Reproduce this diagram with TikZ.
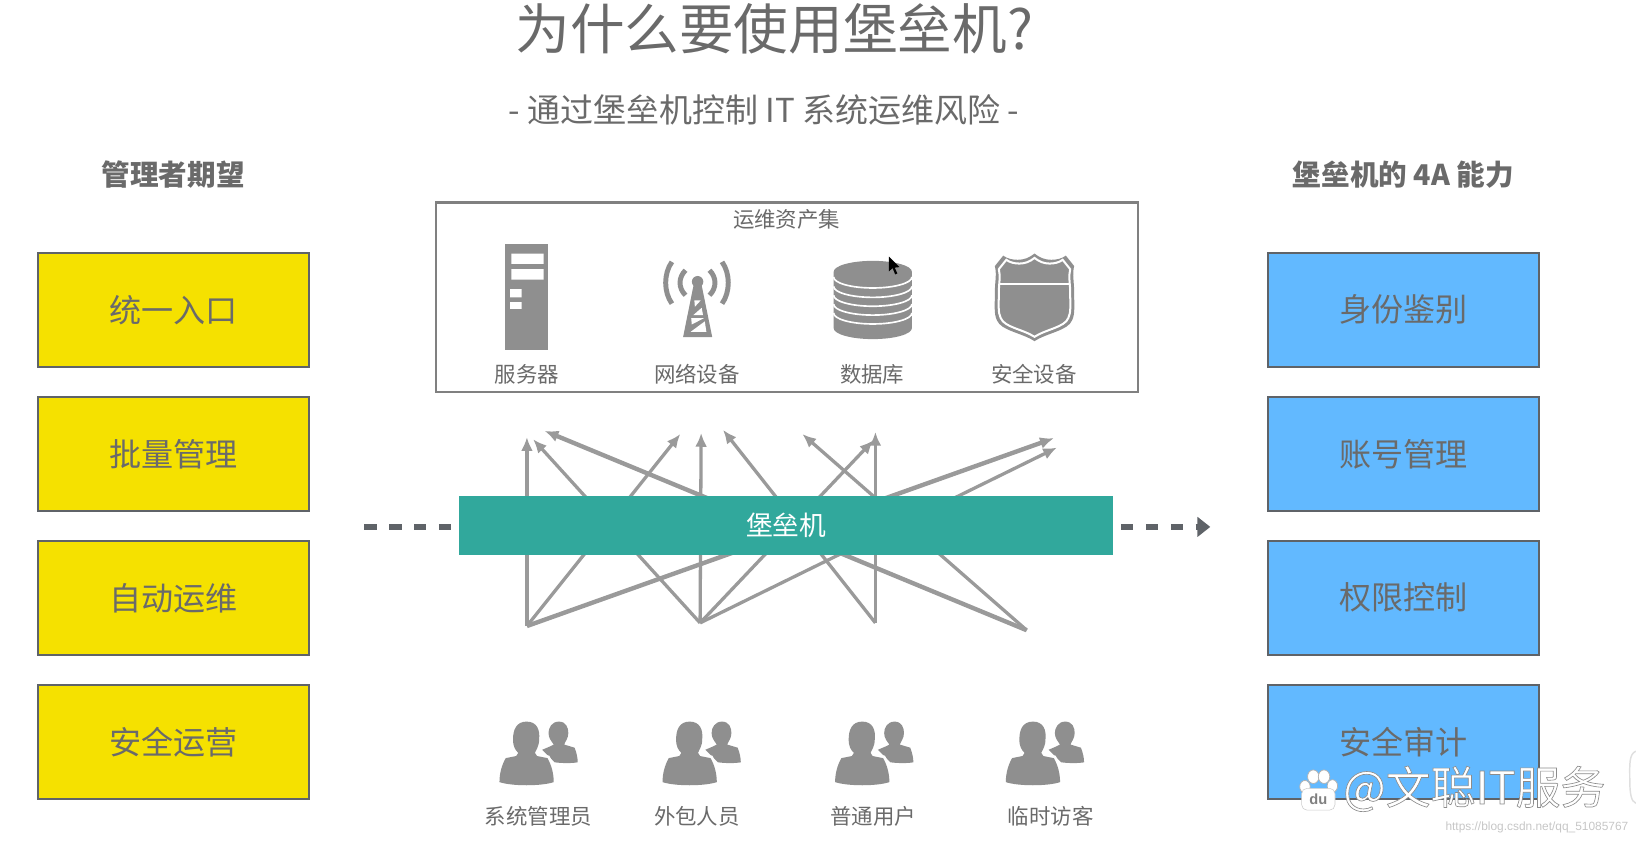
\documentclass[tikz,border=0pt]{standalone}
\usepackage{fontspec}
\setmainfont{Noto Sans CJK SC}
\newfontfamily\urlfont{Liberation Sans}
\usetikzlibrary{positioning, arrows.meta}

\definecolor{boxyellow}{HTML}{F5E100}
\definecolor{boxblue}{HTML}{62B9FF}
\definecolor{barteal}{HTML}{31A89C}
\definecolor{icongray}{HTML}{8F8F8F}
\definecolor{linkgray}{HTML}{9A9A9A}
\definecolor{textgray}{HTML}{6A6A6A}
\definecolor{edgegray}{HTML}{5F6368}

\newcommand{\shieldpath}{(0,-42) .. controls (5,-38) and (10,-36) .. (16,-36) .. controls (21,-36) and (26,-37) .. (30,-40) -- (38,-30) .. controls (36,-22) and (38,-15) .. (38,-5) .. controls (38,8) and (39,16) .. (36,22) .. controls (32,32) and (12,34) .. (0,42) .. controls (-12,34) and (-32,32) .. (-36,22) .. controls (-39,16) and (-38,8) .. (-38,-5) .. controls (-38,-15) and (-36,-22) .. (-38,-30) -- (-30,-40) .. controls (-26,-37) and (-21,-36) .. (-16,-36) .. controls (-10,-36) and (-5,-38) .. (0,-42) -- cycle}

\begin{document}
\begin{tikzpicture}[x=0.02cm,y=-0.02cm,>={Latex[length=7.5pt,width=6.5pt]},
    wish/.style={draw=edgegray,line width=1.1pt,fill=boxyellow,minimum width=5.19cm,minimum height=2.19cm,text=textgray,font=\fontsize{17.5}{20}\selectfont},
    skill/.style={wish,fill=boxblue},
    heading/.style={text=textgray,font=\fontsize{15.6}{18}\selectfont\bfseries},
    small/.style={text=textgray,font=\fontsize{11.7}{14}\selectfont},
    link/.style={draw=linkgray,line width=1.8pt,->},
    thicklink/.style={link,line width=2.4pt},
    dashlink/.style={draw=edgegray,line width=3.6pt,dash pattern=on 6.8pt off 6.8pt},
    persons/.pic={
        \fill[icongray] (57,0) .. controls (64,0) and (66,6) .. (66,11) .. controls (66,16) and (63,19) .. (62,22) -- (72,25) .. controls (74,30) and (75,35) .. (75,39) .. controls (70,40) and (60,40) .. (53,39) -- (41,27) -- (48,24) -- (52,22) .. controls (50,19) and (47,16) .. (47,11) .. controls (47,6) and (50,0) .. (57,0) -- cycle;
        \fill[icongray,preaction={draw=white,line width=3pt}] (26,0) .. controls (36,0) and (39,8) .. (38,17) .. controls (38,24) and (35,27) .. (34,30) -- (36,33) -- (46,35) .. controls (50,42) and (52,50) .. (52,58) .. controls (40,62) and (12,62) .. (0,58) .. controls (0,50) and (2,42) .. (6,35) -- (16,33) -- (18,30) .. controls (15,27) and (13,24) .. (13,17) .. controls (13,8) and (16,0) .. (26,0) -- cycle;
    }]

\useasboundingbox (0,0) rectangle (1568,812);

\node[text=textgray,font=\fontsize{29.8}{34}\selectfont] (title) at (742,28) {为什么要使用堡垒机?};
\node[text=textgray,font=\fontsize{18}{21}\selectfont] (subtitle) at (732,105) {- 通过堡垒机控制 IT 系统运维风险 -};
\node[heading] (lefthead) at (166,167) {管理者期望};
\node[heading] (righthead) at (1345,167) {堡垒机的 4A 能力};

\foreach \y/\name/\txt in {297/w1/统一入口,435/w2/批量管理,573/w3/自动运维,711/w4/安全运营} {
    \node[wish] (\name) at (166,\y) {\txt};
}
\foreach \y/\name/\txt in {297/s1/身份鉴别,435/s2/账号管理,573/s3/权限控制,711/s4/安全审计} {
    \node[skill] (\name) at (1345,\y) {\txt};
}

% assets
\node[draw=gray,line width=1.2pt,minimum width=13.46cm,minimum height=3.64cm] (assets) at (754.5,285) {};
\node[small] (assetshead) at (754,210) {运维资产集};
\foreach \x/\name/\txt in {505/a1/服务器,668/a2/网络设备,836/a3/数据库,991/a4/安全设备} {
    \node[small] (\name) at (\x,359) {\txt};
}

% server
\fill[icongray] (484,234) rectangle (525,335);
\fill[white] (490,243) rectangle (521,253) (490,258) rectangle (521,268) (489,277) rectangle (500,285) (489,289.5) rectangle (500,296);

% tower
\draw[icongray,line width=2.7pt] (644,251) .. controls (636,262) and (636,280) .. (644,291);
\draw[icongray,line width=2.7pt] (657,259) .. controls (650,266) and (650,276) .. (657,283);
\draw[icongray,line width=2.7pt] (692,251) .. controls (700,262) and (700,280) .. (692,291);
\draw[icongray,line width=2.7pt] (680,259) .. controls (687,266) and (687,276) .. (680,283);
\fill[icongray] (668.6,270) circle (5.5);
\fill[icongray] (665,272) -- (672.2,272) -- (682.6,323) -- (654.7,323) -- cycle;
\fill[white] (665.5,288) -- (671.5,288) -- (666,294) -- cycle
             (672.5,295) -- (673.8,302) -- (664.5,302) -- cycle
             (662.5,305) -- (674.5,305) -- (663,311) -- cycle
             (675.5,308) -- (677,318) -- (662,318) -- cycle;

% database
\fill[icongray] (799,260.5) arc[start angle=180,end angle=360,x radius=37.5,y radius=10.5] -- (874,314.5) arc[start angle=0,end angle=180,x radius=37.5,y radius=10.5] -- cycle;
\foreach \y in {265.5,274.5,283,291.5,300} {
    \draw[white,line width=0.9pt] (799,\y) arc[start angle=180,end angle=0,x radius=37.5,y radius=10.5];
}
\fill[black] (852,246) -- (852,260) -- (855.5,257) -- (858,263) -- (860,262) -- (857.5,256.5) -- (862,256) -- cycle;

% shield
\begin{scope}[shift={(991.5,285)}]
\fill[icongray] \shieldpath;
\draw[white,line width=1.1pt,scale=0.9] \shieldpath;
\draw[white,line width=1.1pt] (-34,-13) -- (34,-13);
\end{scope}

% users
\foreach \x/\name/\lx/\txt in {478.7/u1/516/系统管理员,635/u2/668/外包人员,800.4/u3/837/普通用户,964/u4/1007/临时访客} {
    \pic at (\x,691.6) {persons};
    \node[small] (\name) at (\lx,782) {\txt};
}

% arrows
\coordinate (admin) at (505,600);
\coordinate (vendor) at (671,597);
\coordinate (normal) at (839,597);
\coordinate (guest) at (984,604);
\foreach \name/\x/\y in {t1/505/419,t2/511/421,t3/522/413,t4/652/416,t5/672/415,t6/693/412,t7/769/416,t8/837/422,t9/839/414,t10/1010/420,t11/1013/429} {
    \coordinate (\name) at (\x,\y);
}
\foreach \from/\to in {admin/t1,vendor/t2,admin/t4,vendor/t5,normal/t6,guest/t7,vendor/t8,normal/t9,vendor/t11} {
    \draw[link] (\from) -- (\to);
}
\draw[thicklink] (guest) -- (t3);
\draw[thicklink] (admin) -- (t10);

\node[fill=barteal,minimum width=12.54cm,minimum height=1.14cm,text=white,font=\fontsize{14.6}{18}\selectfont] (bar) at (753.5,503.5) {堡垒机};
\coordinate (dashin) at (349,505);
\coordinate (dashout) at (1160,505);
\draw[dashlink] (dashin) -- (dashin -| bar.west);
\draw[dashlink,dash phase=9.6pt,-{Triangle[length=7pt,width=10.5pt]}] (dashout -| bar.east) -- (dashout);

% watermark
\foreach \x/\y/\rx/\ry/\name in {1258.7/744.4/5.5/6.5/p1,1269/744.4/5.5/6.5/p2,1250.7/754/5/6/p3,1277/753.3/5/6/p4} {
    \filldraw[white,draw=gray!60,line width=0.4pt] (\x,\y) ellipse[x radius=\rx,y radius=\ry];
}
\node[fill=white,draw=gray!40,line width=0.3pt,rounded corners=3pt,inner sep=0pt,minimum width=0.64cm,minimum height=0.42cm,text=gray,font=\urlfont\fontsize{8}{9}\selectfont\bfseries] (paw) at (1263.5,766) {du};
\node[anchor=west,inner sep=0pt,text=white,font=\fontsize{24.5}{30}\selectfont] (mark) at (1287,756) {\special{pdf:code q 2 Tr 0.35 w 0.55 G}@文聪IT服务\special{pdf:code Q}};
\node[anchor=east,inner sep=0pt,text=gray!45,font=\urlfont\fontsize{6.5}{8}\selectfont] (url) at (1561,793) {https://blog.csdn.net/qq\_51085767};
\coordinate (badge) at (1568,720);
\draw[gray!25,line width=0.8pt] (badge) .. controls (1561,722) and (1562,735) .. (1562,745) .. controls (1562,760) and (1563,768) .. (1568,770);

\end{tikzpicture}
\end{document}
